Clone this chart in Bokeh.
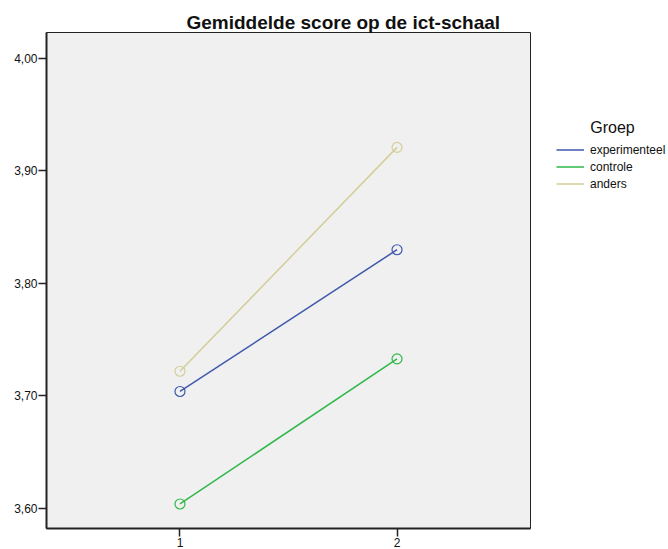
from bokeh.plotting import figure
from bokeh.models import ColumnDataSource, Legend, LegendItem, FixedTicker, Range1d, Label
from bokeh.layouts import row
from bokeh.embed import file_html
from bokeh.resources import INLINE

x_cats = [1, 2]
x_labels = ["1", "2"]
y_ticks = [3.6, 3.7, 3.8, 3.9, 4.0]
y_tick_labels = ["3,60", "3,70", "3,80", "3,90", "4,00"]
groups = ["experimenteel", "controle", "anders"]
experimenteel = [3.704, 3.830]
controle = [3.604, 3.733]
anders = [3.722, 3.921]
colors = ["#3E58AC", "#2EB848", "#D3CE97"]
legend_title = "Groep"
chart_title = "Gemiddelde score op de ict-schaal"

FONT = "Liberation Sans"
H = 549

p = figure(width=548, height=H, output_backend="svg", toolbar_location=None,
           x_range=Range1d(0.385, 2.615), y_range=Range1d(3.5822, 4.0231),
           min_border_left=46, min_border_right=18, min_border_top=32, min_border_bottom=0,
           background_fill_color="#F0F0F0", border_fill_color="white")
p.grid.visible = False
p.outline_line_color = "#222222"
p.outline_line_width = 1

p.title.text = chart_title
p.title.text_font = FONT
p.title.text_font_size = "19px"
p.title.text_font_style = "bold"
p.title.text_color = "#111111"
p.title.align = "left"
p.title.offset = 140
p.title.standoff = 0

for ax in (p.xaxis[0], p.yaxis[0]):
    ax.axis_line_color = "#222222"
    ax.axis_line_width = 2
    ax.major_tick_line_color = "#222222"
    ax.major_tick_line_width = 1.5
    ax.major_tick_out = 8
    ax.major_tick_in = 0
    ax.minor_tick_line_color = None
    ax.major_label_text_font = FONT
    ax.major_label_text_font_size = "12px"
    ax.major_label_text_color = "#111111"
    ax.major_label_standoff = 1

p.xaxis.ticker = FixedTicker(ticks=x_cats)
p.xaxis.major_label_overrides = {k: v for k, v in zip(x_cats, x_labels)}
p.yaxis.ticker = FixedTicker(ticks=y_ticks)
p.yaxis.major_label_overrides = {k: v for k, v in zip(y_ticks, y_tick_labels)}

for name, vals, col in zip(groups, [experimenteel, controle, anders], colors):
    src = ColumnDataSource(dict(x=x_cats, y=vals))
    p.line("x", "y", source=src, line_color=col, line_width=1.5)
    p.scatter("x", "y", source=src, marker="circle", size=10, fill_color=None,
              line_color=col, line_width=1.2)

# legend panel (separate figure so the legend is not clipped by the plot frame)
p2 = figure(width=120, height=H, output_backend="svg", toolbar_location=None,
            x_range=Range1d(0, 1), y_range=Range1d(0, 1),
            x_axis_location=None, y_axis_location=None, title=None,
            min_border_left=0, min_border_right=0, min_border_top=0, min_border_bottom=0,
            outline_line_color=None, background_fill_color="white", border_fill_color="white")
p2.grid.visible = False

items = []
for name, col in zip(groups, colors):
    # legend proxy renderer, placed outside the visible range of this panel
    r = p2.line(x=[5, 6], y=[5, 5], line_color=col, line_width=1.5)
    items.append(LegendItem(label=name, renderers=[r]))

legend = Legend(items=items, location=(8, 336), orientation="vertical",
                glyph_width=28, glyph_height=17, label_height=17, label_standoff=6,
                spacing=0, padding=0, margin=0, border_line_color=None,
                background_fill_alpha=0, label_text_font=FONT, label_text_font_size="12px",
                label_text_color="#111111")
p2.add_layout(legend, "center")

p2.add_layout(Label(x=64, y=401, x_units="screen", y_units="screen", text=legend_title,
                    text_font=FONT, text_font_size="16px", text_align="center",
                    text_baseline="middle", text_color="#111111"))

layout = row(p, p2)
open("out.html", "w").write(file_html(layout, INLINE))
